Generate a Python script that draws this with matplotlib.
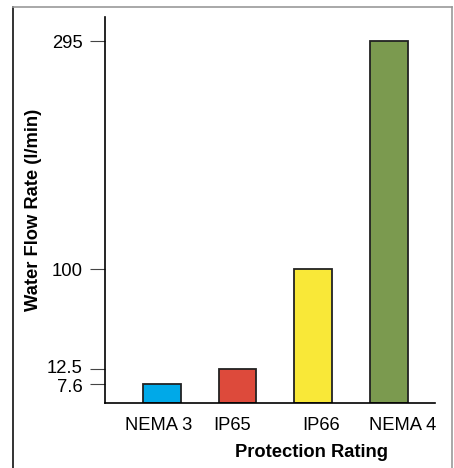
import matplotlib
matplotlib.use('Agg')
import matplotlib.pyplot as plt
import matplotlib.transforms as mtransforms
from matplotlib.lines import Line2D
import numpy as np

plt.rcParams['font.family'] = ['Liberation Sans', 'DejaVu Sans']

# データ
ratings = ['NEMA 3', 'IP65', 'IP66', 'NEMA 4']
flow_rates = [7.6, 12.5, 100, 295]
bar_colors = ['#00a9e8', '#dd4a3b', '#f9e838', '#7b9a4f']

# 縦軸は原図と同じく不均一な目盛り (値 -> 相対的な高さ)
scale_vals = np.array([0, 7.6, 12.5, 100, 295, 315.5])
scale_pos = np.array([0, 19, 34, 134, 362, 386]) / 386.0


def forward(v):
    return np.interp(v, scale_vals, scale_pos)


def inverse(p):
    return np.interp(p, scale_pos, scale_vals)


fig = plt.figure(figsize=(4.54, 4.68), dpi=100)
ax = fig.add_axes([105 / 454, 65 / 468, 330 / 454, 386 / 468])

x = np.arange(len(ratings))
ax.bar(x, flow_rates, width=0.5, color=bar_colors, edgecolor='#222222', linewidth=1.3, zorder=2)

ax.set_yscale('function', functions=(forward, inverse))
ax.set_ylim(0, 315.5)
ax.set_xlim(-0.747, 3.605)

ax.set_yticks(flow_rates)
ax.set_yticklabels(['7.6', '12.5', '100', '295'])
ax.tick_params(axis='y', length=11, width=0.8, color='#444444', pad=5, labelsize=13.3)
ax.minorticks_off()

# 近い二つの目盛りラベルを少し離す
y_offsets = [-2, 2.5, 0, 0]
for lab, dy in zip(ax.get_yticklabels(), y_offsets):
    lab.set_transform(lab.get_transform() + mtransforms.ScaledTranslation(0, dy / 100, fig.dpi_scale_trans))

ax.set_xticks(x)
ax.set_xticklabels(ratings)
ax.tick_params(axis='x', length=0, pad=10, labelsize=13.2)

# ラベルの位置ずれ (原図に合わせる)
offsets = [-3, -5, 8, 14]
for lab, dx in zip(ax.get_xticklabels(), offsets):
    lab.set_transform(lab.get_transform() + mtransforms.ScaledTranslation(dx / 100, 0, fig.dpi_scale_trans))

for s in ['top', 'right']:
    ax.spines[s].set_visible(False)
ax.spines['left'].set_linewidth(1.2)
ax.spines['bottom'].set_linewidth(1.2)

ax.set_ylabel('Water Flow Rate (l/min)', fontsize=13.2, fontweight='bold')
ax.yaxis.set_label_coords(-0.19, 0.5)
ax.set_xlabel('Protection Rating', fontsize=13.2, fontweight='bold')
ax.xaxis.set_label_coords(0.626, -0.107)

# 外枠
fig.add_artist(Line2D([13 / 454, 13 / 454], [0, 1 - 7 / 468], color='#111111', lw=1.2))
fig.add_artist(Line2D([13 / 454, 452 / 454], [1 - 7 / 468, 1 - 7 / 468], color='#999999', lw=1.2))
fig.add_artist(Line2D([452 / 454, 452 / 454], [0, 1 - 7 / 468], color='#999999', lw=1.2))

plt.savefig('out.png', dpi=100)
